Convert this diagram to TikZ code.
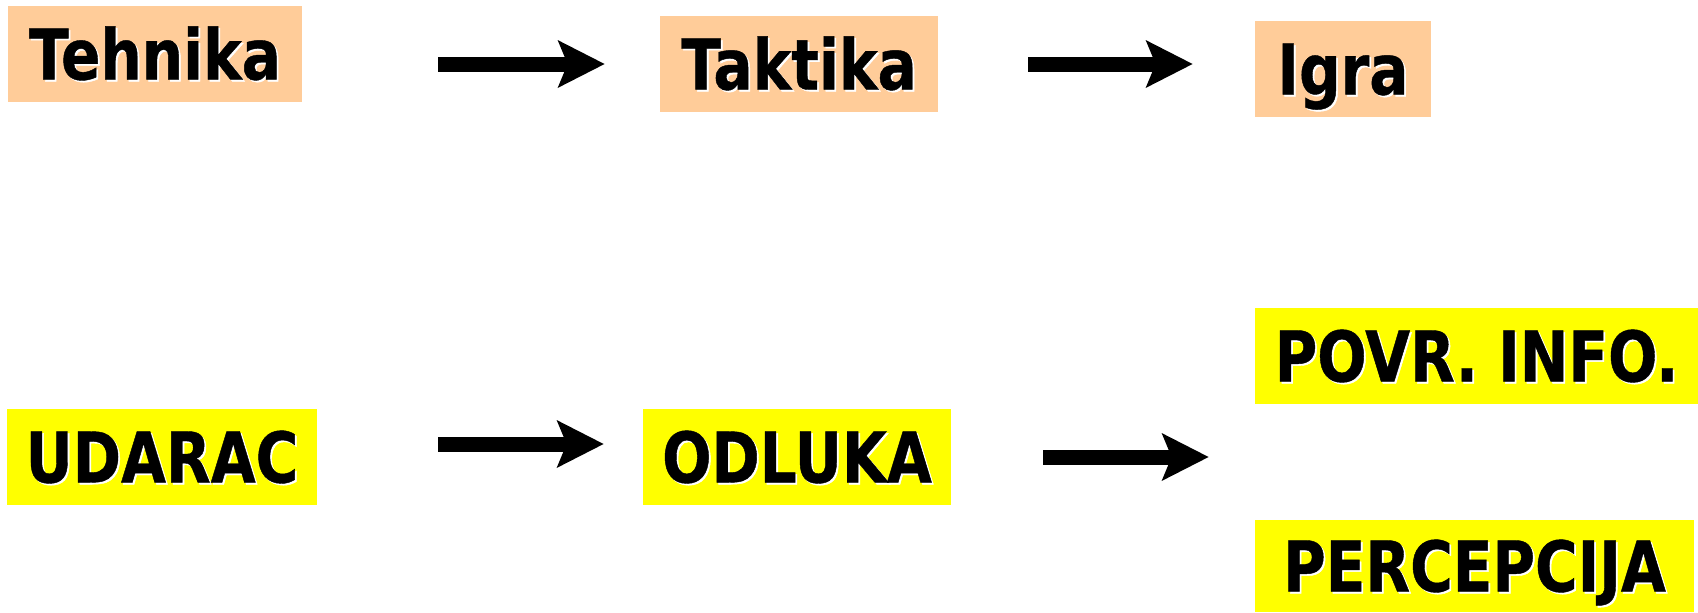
\documentclass[tikz,border=0pt]{standalone}
\usepackage{fontspec}
\usepackage{tikz}
\usetikzlibrary{arrows.meta,positioning}
\usepackage{xcolor}
\definecolor{peach}{HTML}{FFCC99}
\definecolor{lemon}{HTML}{FFFF00}
\newfontfamily\boxfont{DejaVu Sans}[FakeStretch=0.83, FakeBold=0.6]
\newcommand{\shtext}[1]{\makebox[0pt][l]{\hspace{0.9pt}\raisebox{-0.9pt}{\textcolor{white}{#1}}}#1}

\begin{document}
\begin{tikzpicture}[x=0.5pt, y=-0.5pt,
    box/.style={inner sep=0pt, text height=25.5pt, text depth=0pt, minimum height=48pt,
        font=\boxfont\bfseries\fontsize{35}{42}\selectfont},
    tan/.style={box, fill=peach},
    ylw/.style={box, fill=lemon},
    fat/.style={-{Stealth[length=23.5pt, width=24pt, inset=5pt, line width=0pt]}, line width=7.5pt}]
    \useasboundingbox (0,0) rectangle (1698,612);

    % Top row
    \node[tan, minimum width=147pt] (tehnika) at (155,54) {\shtext{Tehnika}};
    \node[tan, minimum width=139pt] (taktika) at (799,64) {\shtext{Taktika}};
    \node[tan, minimum width=88pt] (igra) at (1343,69) {\shtext{Igra}};

    % Bottom row
    \node[ylw, minimum width=155pt] (udarac) at (162,457) {\shtext{UDARAC}};
    \node[ylw, minimum width=154pt] (odluka) at (797,457) {\shtext{ODLUKA}};
    \node[ylw, minimum width=221.5pt] (povr) at (1476.5,356) {\shtext{POVR. INFO.}};
    \node[ylw, minimum width=219.5pt, minimum height=46pt] (percepcija) at (1474.5,566) {\shtext{PERCEPCIJA}};

    % Arrows
    \draw[fat, shorten <=68pt, shorten >=27.5pt] (tehnika.east |- taktika.west) -- (taktika.west);
    \draw[fat, shorten <=45pt, shorten >=31pt] (taktika.east) -- (taktika.east -| igra.west);
    \draw[fat, shorten <=60.5pt, shorten >=19.5pt] ([yshift=6.5pt]udarac.east) -- ([yshift=6.5pt]odluka.west);
    \draw[fat, shorten <=46pt, shorten >=23pt] (odluka.east) -- (odluka.east -| povr.west);
\end{tikzpicture}
\end{document}
